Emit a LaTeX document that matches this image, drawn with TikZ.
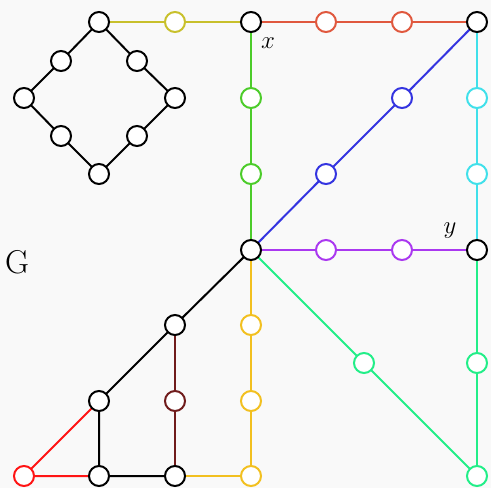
\documentclass[tikz,border=0pt]{standalone}
\usetikzlibrary{positioning}
\definecolor{bg}{HTML}{F9F9F9}
\definecolor{colA}{HTML}{C8C02C}
\definecolor{colB}{HTML}{E0583E}
\definecolor{colC}{HTML}{4CCC2A}
\definecolor{colD}{HTML}{40E0EA}
\definecolor{colE}{HTML}{3434E0}
\definecolor{colF}{HTML}{AA38F0}
\definecolor{colG}{HTML}{F2C020}
\definecolor{colH}{HTML}{701C1C}
\definecolor{colI}{HTML}{22EE88}
\definecolor{colJ}{HTML}{FF1414}
\tikzset{
  vtx/.style={circle,draw=#1,fill=white,line width=2pt,minimum size=20pt,inner sep=0pt},
  vtx/.default=black,
  edg/.style={draw=#1,line width=2pt},
  edg/.default=black,
}
\begin{document}
\begin{tikzpicture}[x=1pt,y=-1pt]
\fill[bg] (0,0) rectangle (491,488);
\useasboundingbox (0,0) rectangle (491,488);
% diamond coordinates
\coordinate (pT) at (99,22);
\coordinate (pL) at (24,98);
\coordinate (pR) at (175,98);
\coordinate (pB) at (99,174);
\coordinate (pTL) at (61,61);
\coordinate (pTR) at (137,61);
\coordinate (pBL) at (61,136);
\coordinate (pBR) at (137,136);
% main
\coordinate (pX) at (251,22);
\coordinate (pTRc) at (477,22);
\coordinate (pC) at (251,250);
\coordinate (pY) at (477,250);
\coordinate (pM) at (175,325);
\coordinate (pN) at (99,401);
\coordinate (pP) at (99,476);
\coordinate (pQ) at (175,476);
\coordinate (a1) at (175,22);
\coordinate (b1) at (326,22);
\coordinate (b2) at (402,22);
\coordinate (c1) at (251,98);
\coordinate (c2) at (251,174);
\coordinate (d1) at (477,98);
\coordinate (d2) at (477,174);
\coordinate (e1) at (402,98);
\coordinate (e2) at (326,174);
\coordinate (f1) at (326,250);
\coordinate (f2) at (402,250);
\coordinate (g1) at (251,325);
\coordinate (g2) at (251,401);
\coordinate (g3) at (251,476);
\coordinate (h1) at (175,401);
\coordinate (i1) at (364,363);
\coordinate (i2) at (477,363);
\coordinate (i3) at (477,476);
\coordinate (j1) at (24,476);
% edges
\draw[edg] (pT) -- (pTL) -- (pL) -- (pBL) -- (pB) -- (pBR) -- (pR) -- (pTR) -- (pT);
\draw[edg=colA] (pT) -- (a1) -- (pX);
\draw[edg=colB] (pX) -- (b1) -- (b2) -- (pTRc);
\draw[edg=colC] (pX) -- (c1) -- (c2) -- (pC);
\draw[edg=colD] (pTRc) -- (d1) -- (d2) -- (pY);
\draw[edg=colE] (pTRc) -- (e1) -- (e2) -- (pC);
\draw[edg=colF] (pC) -- (f1) -- (f2) -- (pY);
\draw[edg=colG] (pC) -- (g1) -- (g2) -- (g3) -- (pQ);
\draw[edg=colH] (pM) -- (h1) -- (pQ);
\draw[edg=colI] (pC) -- (i1) -- (i3);
\draw[edg=colI] (pY) -- (i2) -- (i3);
\draw[edg] (pC) -- (pM) -- (pN) -- (pP) -- (pQ);
\draw[edg=colJ] (pN) -- (j1) -- (pP);
% nodes
\foreach \p in {pT,pL,pR,pB,pTL,pTR,pBL,pBR,pX,pTRc,pC,pY,pM,pN,pP,pQ}
  \node[vtx] (n\p) at (\p) {};
\foreach \p in {a1} \node[vtx=colA] (n\p) at (\p) {};
\foreach \p in {b1,b2} \node[vtx=colB] (n\p) at (\p) {};
\foreach \p in {c1,c2} \node[vtx=colC] (n\p) at (\p) {};
\foreach \p in {d1,d2} \node[vtx=colD] (n\p) at (\p) {};
\foreach \p in {e1,e2} \node[vtx=colE] (n\p) at (\p) {};
\foreach \p in {f1,f2} \node[vtx=colF] (n\p) at (\p) {};
\foreach \p in {g1,g2,g3} \node[vtx=colG] (n\p) at (\p) {};
\foreach \p in {h1} \node[vtx=colH] (n\p) at (\p) {};
\foreach \p in {i1,i2,i3} \node[vtx=colI] (n\p) at (\p) {};
\foreach \p in {j1} \node[vtx=colJ] (n\p) at (\p) {};
% labels
\node[font=\fontsize{28}{28}\selectfont] (lx) at (268,43) {$x$};
\node[font=\fontsize{28}{28}\selectfont] (ly) at (450,231) {$y$};
\node[font=\fontsize{33}{33}\selectfont] (lG) at (17,262) {G};
\end{tikzpicture}
\end{document}
